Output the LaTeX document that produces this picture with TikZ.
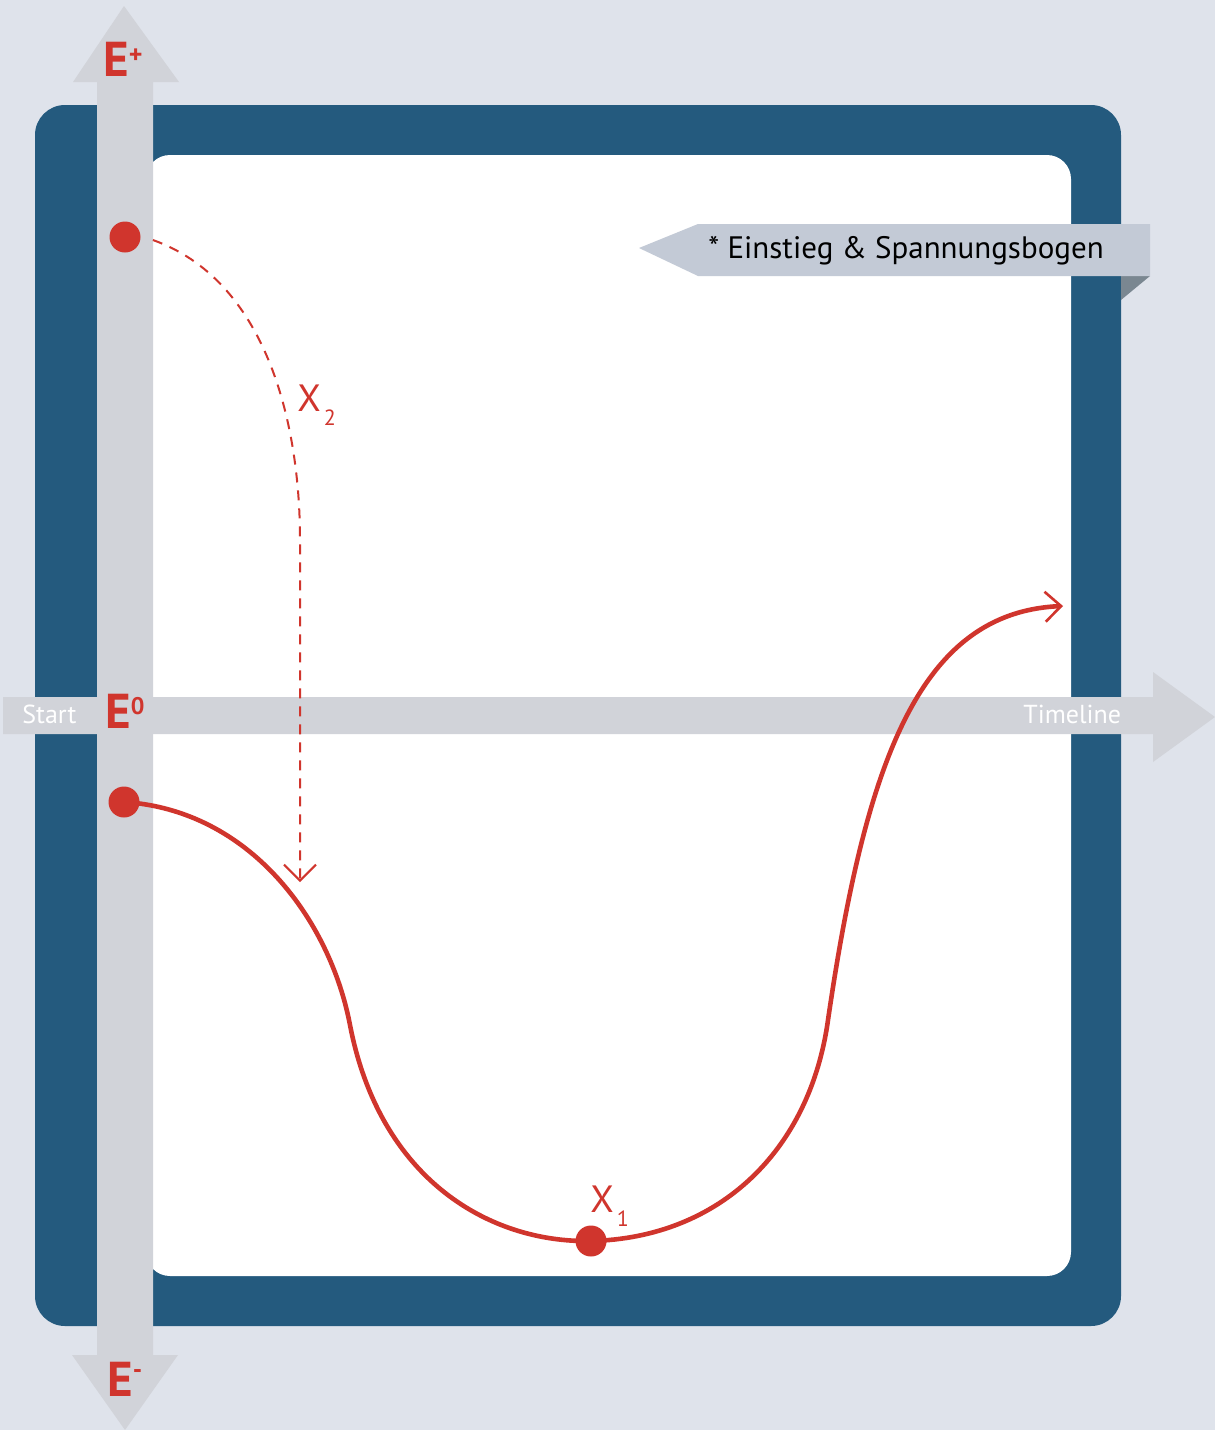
\documentclass[tikz,border=0pt]{standalone}
\usepackage{fontspec}
\setmainfont{PT Sans}
\usetikzlibrary{arrows.meta}
\definecolor{bgc}{HTML}{DFE3EB}
\definecolor{framec}{HTML}{245A7E}
\definecolor{barc}{HTML}{D1D3D9}
\definecolor{bannerc}{HTML}{C3CAD6}
\definecolor{foldc}{HTML}{7A8791}
\definecolor{redc}{HTML}{D0352D}
\begin{document}
\begin{tikzpicture}[x=0.5pt,y=-0.5pt,
  dot/.style={circle,fill=redc,inner sep=0pt,minimum size=15.5pt},
  elabel/.style={inner sep=0pt,anchor=base west,text=redc,font=\fontsize{24.5}{24.5}\selectfont\bfseries},
  xlabel/.style={inner sep=0pt,anchor=base west,text=redc,font=\fontsize{19}{19}\selectfont},
  barlabel/.style={inner sep=0pt,anchor=base west,text=white,font=\fontsize{13}{13}\selectfont},
  curve/.style={draw=redc,line width=2.3pt,-{Straight Barb[length=8pt,width=15pt,line width=1.3pt]}},
  dcurve/.style={draw=redc,line width=1pt,dash pattern=on 5pt off 4pt,-{Straight Barb[length=8pt,width=16pt,line width=1pt]}}]
\useasboundingbox (0,0) rectangle (1215,1430);
\fill[bgc] (0,0) rectangle (1215,1430);
% frame
\fill[framec,rounded corners=15pt] (35,105) rectangle (1121,1326);
\fill[white,rounded corners=12pt] (146,155) rectangle (1071,1276);
% vertical bar
\fill[barc] (97,82) -- (73,82) -- (124,6) -- (179,82) -- (153,82) -- (153,1355) -- (178,1355) -- (125,1430) -- (72,1355) -- (97,1355) -- cycle;
% horizontal bar
\fill[barc] (3,697) -- (1153,697) -- (1153,672) -- (1215,717) -- (1153,762) -- (1153,734) -- (3,734) -- cycle;
% banner
\fill[foldc] (1121,276) -- (1150,276) -- (1121,300) -- cycle;
\fill[bannerc] (639,248) -- (698,224) -- (1150,224) -- (1150,276) -- (698,276) -- cycle;
\node[inner sep=0pt,anchor=base west,font=\fontsize{15.5}{15.5}\selectfont] (banner) at (708,258) {* Einstieg \& Spannungsbogen};
% labels on bars
\node[barlabel] (start) at (22,723) {Start};
\node[barlabel] (timeline) at (1023,723) {Timeline};
\node[elabel] (eplus) at (103,76) {E\raisebox{6.5pt}{\fontsize{13}{13}\selectfont +}};
\node[elabel] (ezero) at (105,728) {E\raisebox{7pt}{\fontsize{12}{12}\selectfont 0}};
\node[elabel] (eminus) at (107,1396) {E\raisebox{9pt}{\fontsize{13}{13}\selectfont -}};
% dots
\node[dot] (d1) at (125,237) {};
\node[dot] (d0) at (124,802) {};
\node[dot] (dx) at (591,1241) {};
\coordinate (dend) at (300,882);
\coordinate (send) at (1063,606);
% dashed curve
\draw[dcurve] (d1.east) ++(12,3) .. controls (265,280) and (300,420) .. (300,540) -- (dend);
% solid curve
\draw[draw=redc,line width=2.3pt] (d0.center) .. controls (250,810) and (330,920) .. (350,1025)
  .. controls (380,1180) and (490,1243) .. (dx.center);
\draw[curve] (dx.center) .. controls (720,1238) and (810,1150) .. (828,1020)
  .. controls (866,760) and (920,612) .. (send);
% X labels
\node[xlabel] (x2) at (297,411) {X\hspace{1.5pt}\raisebox{-7pt}{\fontsize{11}{11}\selectfont 2}};
\node[xlabel] (x1) at (590,1212) {X\hspace{1.5pt}\raisebox{-7pt}{\fontsize{11}{11}\selectfont 1}};
\end{tikzpicture}
\end{document}
